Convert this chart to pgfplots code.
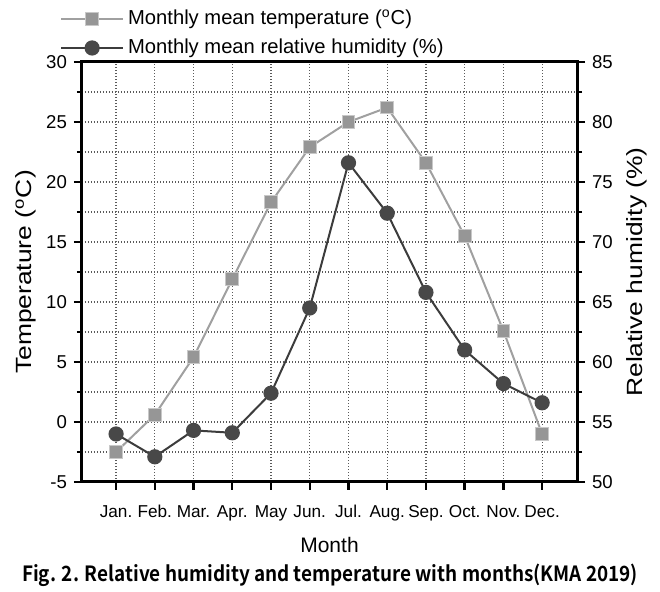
\documentclass[border=0pt]{standalone}
\usepackage{pgfplots}
\pgfplotsset{compat=1.18}
\usepackage{graphicx}
\usepackage{fontspec}
\setmainfont{Liberation Sans}
\newfontfamily\capfont{Noto Sans CJK KR}[BoldFont={Noto Sans CJK KR Bold}]
\definecolor{tempc}{RGB}{150,150,150}
\definecolor{templine}{RGB}{160,160,160}
\definecolor{tempedge}{RGB}{200,200,200}
\definecolor{humc}{RGB}{72,72,72}
\definecolor{humline}{RGB}{60,60,60}
\definecolor{gridc}{RGB}{90,90,90}
\pgfplotstableread{
m temp
1 -2.5
2 0.6
3 5.4
4 11.9
5 18.3
6 22.9
7 25.0
8 26.2
9 21.6
10 15.5
11 7.6
12 -1.0
}\temptable
\pgfplotstableread{
m hum
1 54.0
2 52.1
3 54.3
4 54.1
5 57.4
6 64.5
7 76.6
8 72.4
9 65.8
10 61.0
11 58.2
12 56.6
}\humtable
\pgfplotsset{
  common/.style={
    at={(41pt,55pt)}, anchor=south west, scale only axis,
    width=247.5pt, height=210pt,
    xmin=0.12, xmax=12.9,
    /pgf/number format/assume math mode=true,
    tick align=outside,
    major tick length=4pt, minor tick length=2.5pt,
    every tick/.style={line width=1.2pt, black},
    axis line style={line width=1.5pt},
    yticklabel style={font=\fontsize{9.3}{11}\selectfont},
    label style={font=\fontsize{11}{12}\selectfont},
  },
  tempstyle/.style={color=templine, line width=1pt, mark=square*, mark size=3.2pt,
    mark options={fill=tempc, draw=tempedge, line width=0.5pt}},
  humstyle/.style={color=humline, line width=1pt, mark=*, mark size=3.3pt,
    mark options={fill=humc, draw=humc}},
  gridsty/.style={color=gridc, line width=0.6pt, dash pattern=on 0.5pt off 1pt},
}
\begin{document}
\begin{tikzpicture}
\path[use as bounding box] (0pt,0pt) rectangle (330pt,296pt);
\begin{axis}[common,
  ymin=-5, ymax=30,
  xtick={1,...,12},
  xticklabels={Jan.,Feb.,Mar.,Apr.,May,Jun.,Jul.,Aug.,Sep.,Oct.,Nov.,Dec.},
  xticklabel style={font=\fontsize{8.6}{10}\selectfont, yshift=-2pt, text height=1.6ex, text depth=0.3ex},
  xtick pos=bottom, ytick pos=left,
  ytick={-5,0,...,30}, minor y tick num=1,
  xmajorgrids, ymajorgrids, yminorgrids,
  major grid style={gridsty},
  minor grid style={gridsty},
  xlabel={Month},
  ylabel={\scalebox{1.2}[1]{Temperature (\textsuperscript{o}C)}},
  xlabel style={yshift=-1pt, font=\fontsize{10.5}{12}\selectfont},
  ylabel style={yshift=-2pt},
]
\addplot[tempstyle] table[x=m, y=temp] {\temptable};
\end{axis}
\begin{axis}[common,
  ymin=50, ymax=85,
  axis x line=none,
  axis y line*=right,
  ytick={50,55,...,85}, minor y tick num=1,
  ylabel={\scalebox{1.2}[1]{Relative humidity (\%)}},
  legend style={at={(axis description cs:-0.045,1.135)}, anchor=north west,
    draw=none, fill=none, font=\fontsize{10.1}{11}\selectfont,
    row sep=1.8pt, inner sep=0pt},
  legend cell align=left,
  legend image code/.code={\draw[mark repeat=2, mark phase=2] plot coordinates {(0pt,0pt) (15.5pt,0pt) (31pt,0pt)};},
]
\addlegendimage{tempstyle}
\addlegendentry{Monthly mean temperature (\textsuperscript{o}C)}
\addplot[humstyle] table[x=m, y=hum] {\humtable};
\addlegendentry{Monthly mean relative humidity (\%)}
\end{axis}
\node[anchor=base] at (165pt,5pt) {\resizebox{308pt}{\height}{\capfont\bfseries\fontsize{10.5}{12}\selectfont Fig. 2. Relative humidity and temperature with months(KMA 2019)}};
\end{tikzpicture}
\end{document}
